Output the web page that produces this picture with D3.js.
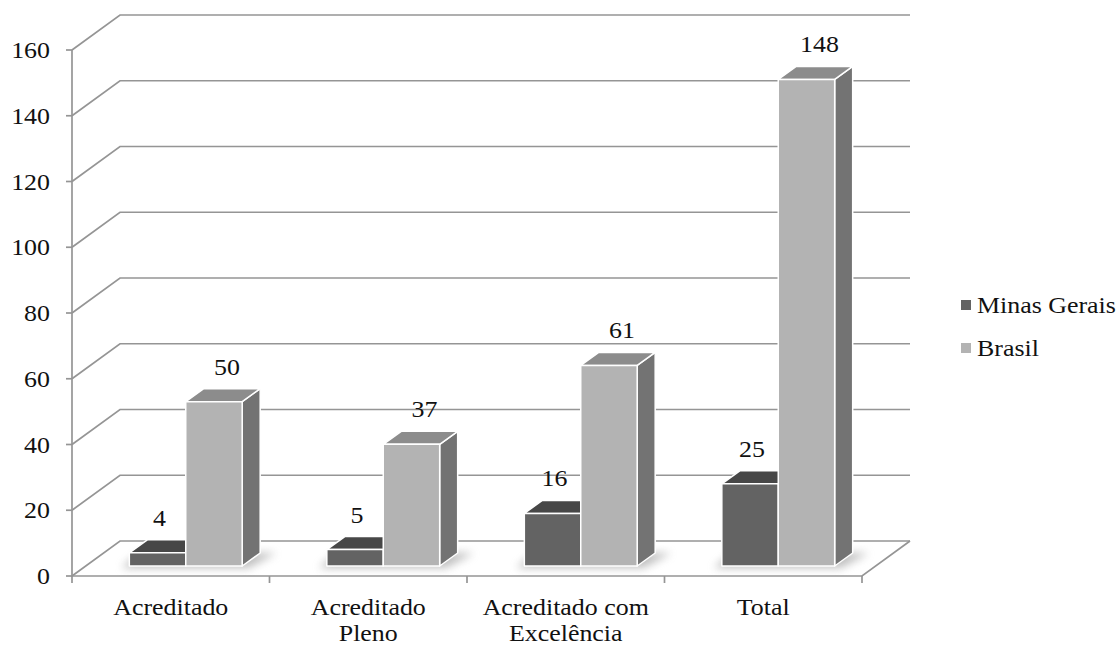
<!DOCTYPE html>
<html>
<head>
<meta charset="utf-8">
<script src="https://cdn.jsdelivr.net/npm/d3@7"></script>
<style>
  body { margin: 0; background: #fff; }
</style>
</head>
<body>
<div id="chart"></div>
<script>
// data
const categories = [["Acreditado"], ["Acreditado", "Pleno"], ["Acreditado com", "Excelência"], ["Total"]];
const seriesNames = ["Minas Gerais", "Brasil"];
const minasGerais = [4, 5, 16, 25];
const brasil = [50, 37, 61, 148];
const yTicks = [0, 20, 40, 60, 80, 100, 120, 140, 160];

const width = 1120, height = 646;
const seriesValues = [minasGerais, brasil];
const colors = [
    { front: "#636363", top: "#474747", side: "#555555" },
    { front: "#b3b3b3", top: "#8c8c8c", side: "#737373" }
];
const serif = "'Liberation Serif', 'Times New Roman', Times, 'DejaVu Serif', serif";

// 3d offsets
const wall = { dx: 48, dy: -35 };
const barFront = { dx: 15, dy: -10 };
const barDepth = { dx: 18, dy: -13 };

const svg = d3.select("#chart").append("svg").attr("width", width).attr("height", height)
    .style("font-family", serif);

const defs = svg.append("defs");
defs.append("filter").attr("id", "blur").attr("x", "-50%").attr("y", "-50%").attr("width", "200%").attr("height", "200%")
    .append("feGaussianBlur").attr("stdDeviation", 4);

const xScale = d3.scaleBand().domain(d3.range(categories.length)).range([72, 862]);
const sScale = d3.scaleBand().domain(d3.range(seriesNames.length)).range([0, xScale.bandwidth()]).paddingOuter(0.75);
const yScale = d3.scaleLinear().domain([0, 160]).range([576, 50]);

const x0 = xScale.range()[0], x1 = xScale.range()[1];
const grid = svg.append("g").attr("fill", "none").attr("stroke", "#959595").attr("stroke-width", 1.7);

// gridlines on side + back wall
yTicks.forEach(v => {
    const y = yScale(v);
    grid.append("polyline")
        .attr("points", `${x0},${y} ${x0 + wall.dx},${y + wall.dy} ${x1 + wall.dx},${y + wall.dy}`);
});
// floor edges
grid.append("polyline")
    .attr("points", `${x0},${yScale(0)} ${x1},${yScale(0)} ${x1 + wall.dx},${yScale(0) + wall.dy}`);
// y axis
grid.append("line").attr("x1", x0).attr("x2", x0).attr("y1", yScale(160)).attr("y2", yScale(0) + 1);
yTicks.forEach(v => {
    grid.append("line").attr("x1", x0 - 6).attr("x2", x0).attr("y1", yScale(v)).attr("y2", yScale(v));
});
// category ticks
d3.range(categories.length + 1).forEach(i => {
    const x = x0 + i * xScale.step();
    grid.append("line").attr("x1", x).attr("x2", x).attr("y1", yScale(0)).attr("y2", yScale(0) + 7);
});

// y labels
svg.append("g").selectAll("text").data(yTicks).join("text")
    .attr("text-anchor", "end")
    .attr("font-size", 24)
    .attr("fill", "#111")
    .attr("transform", d => `translate(50, ${yScale(d) + 8}) scale(1.08,1)`)
    .text(d => d);

// shadows on the floor
const shadows = svg.append("g").attr("filter", "url(#blur)").attr("fill", "#8a8a8a").attr("opacity", 0.55);
categories.forEach((c, i) => {
    const left = xScale(i) + sScale(0) + barFront.dx - 8;
    const right = xScale(i) + sScale(1) + sScale.bandwidth() + barFront.dx + 6;
    const yb = yScale(0) + barFront.dy;
    shadows.append("polygon")
        .attr("points", `${left},${yb + 2} ${right},${yb + 2} ${right + barDepth.dx + 10},${yb + barDepth.dy} ${left + barDepth.dx},${yb + barDepth.dy}`);
});

// bars
const bars = svg.append("g").attr("stroke", "#fff").attr("stroke-width", 1.5).attr("stroke-linejoin", "round");
categories.forEach((c, i) => {
    seriesValues.forEach((vals, s) => {
        const v = vals[i];
        const xl = xScale(i) + sScale(s) + barFront.dx;
        const xr = xl + sScale.bandwidth();
        const yb = yScale(0) + barFront.dy;
        const yt = yScale(v) + barFront.dy;
        const g = bars.append("g");
        g.append("polygon").attr("fill", colors[s].side)
            .attr("points", `${xr},${yb} ${xr + barDepth.dx},${yb + barDepth.dy} ${xr + barDepth.dx},${yt + barDepth.dy} ${xr},${yt}`);
        g.append("polygon").attr("fill", colors[s].top)
            .attr("points", `${xl},${yt} ${xr},${yt} ${xr + barDepth.dx},${yt + barDepth.dy} ${xl + barDepth.dx},${yt + barDepth.dy}`);
        g.append("rect").attr("fill", colors[s].front)
            .attr("x", xl).attr("y", yt).attr("width", sScale.bandwidth()).attr("height", yb - yt);
    });
});

// value labels
const labelShift = [2, 13];
categories.forEach((c, i) => {
    seriesValues.forEach((vals, s) => {
        const v = vals[i];
        const cx = xScale(i) + sScale(s) + sScale.bandwidth() / 2 + barFront.dx + labelShift[s];
        const y = yScale(v) + barFront.dy + barDepth.dy - 14;
        svg.append("text")
            .attr("text-anchor", "middle")
            .attr("font-size", 24)
            .attr("fill", "#111")
            .attr("transform", `translate(${cx}, ${y}) scale(1.08,1)`)
            .text(v);
    });
});

// category labels
const catLabels = svg.append("g").selectAll("text").data(categories).join("text")
    .attr("text-anchor", "middle")
    .attr("font-size", 24)
    .attr("fill", "#111")
    .attr("transform", (d, i) => `translate(${xScale(i) + xScale.bandwidth() / 2}, 615) scale(1.08,1)`);
catLabels.selectAll("tspan").data(d => d).join("tspan")
    .attr("x", 0)
    .attr("y", (d, j) => j * 26)
    .text(d => d);

// legend
const legend = svg.append("g").selectAll("g").data(seriesNames).join("g")
    .attr("transform", (d, i) => `translate(961, ${300 + i * 43})`);
legend.append("rect").attr("width", 10).attr("height", 10).attr("fill", (d, i) => colors[i].front);
legend.append("text")
    .attr("font-size", 24)
    .attr("fill", "#111")
    .attr("transform", "translate(16, 13) scale(1.08,1)")
    .text(d => d);
</script>
</body>
</html>
